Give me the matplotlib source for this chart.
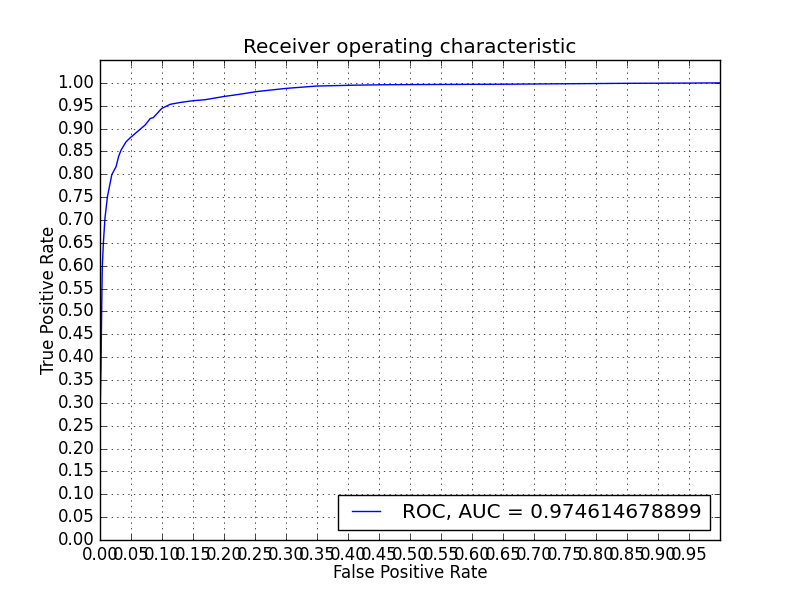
import matplotlib
matplotlib.use('Agg')
import matplotlib.pyplot as plt
import numpy as np

# ROC curve points
fpr = [0.0, 0.0005, 0.0016, 0.0027, 0.0037, 0.0054, 0.008, 0.012, 0.019,
       0.026, 0.030, 0.034, 0.042, 0.048, 0.060, 0.073, 0.081, 0.086,
       0.0995, 0.113, 0.129, 0.150, 0.169, 0.199, 0.225, 0.253, 0.301,
       0.349, 0.414, 0.468, 0.55, 0.65, 0.75, 0.85, 0.95, 1.0]
tpr = [0.0, 0.30, 0.379, 0.503, 0.598, 0.649, 0.704, 0.751, 0.799,
       0.817, 0.839, 0.853, 0.871, 0.879, 0.893, 0.908, 0.922, 0.924,
       0.944, 0.953, 0.957, 0.961, 0.963, 0.970, 0.975, 0.981, 0.988,
       0.993, 0.995, 0.996, 0.9965, 0.997, 0.998, 0.999, 0.9995, 1.0]
roc_auc = 0.974614678899

plt.style.use('classic')
plt.rcParams['figure.facecolor'] = 'white'
plt.rcParams['savefig.facecolor'] = 'white'

fig = plt.figure(figsize=(8, 6), dpi=100)
ax = fig.add_subplot(111)
ax.plot(fpr, tpr, color='b', label='ROC, AUC = ' + str(roc_auc))
ax.set_xlim(0, 1)
ax.set_ylim(0, 1.05)
ax.set_xticks(np.arange(0, 1, 0.05))
ax.set_yticks(np.arange(0, 1.05, 0.05))
ax.xaxis.set_major_formatter(matplotlib.ticker.FormatStrFormatter('%.2f'))
ax.yaxis.set_major_formatter(matplotlib.ticker.FormatStrFormatter('%.2f'))
ax.grid(True)
ax.set_xlabel('False Positive Rate', labelpad=0)
ax.set_ylabel('True Positive Rate', labelpad=0)
ax.set_title('Receiver operating characteristic')
ax.legend(loc='lower right')

fig.savefig('out.png', dpi=100)
